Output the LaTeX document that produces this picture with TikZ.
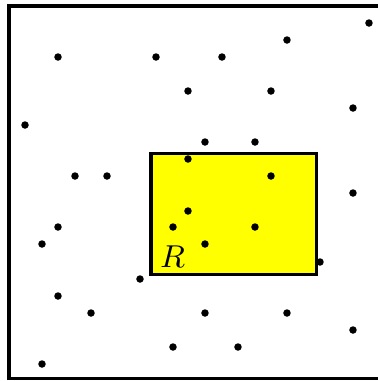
\documentclass[tikz,border=0pt]{standalone}
\usepackage{tikz}
\usetikzlibrary{positioning}
\definecolor{regionfill}{RGB}{255,255,0}
\tikzset{
  pt/.style={
    circle, fill=black, inner sep=0pt, minimum size=0.075cm
  },
  frame/.style={
    draw=black, line width=1.1pt
  },
  region/.style={
    rectangle, draw=black, line width=1.1pt, fill=regionfill,
    inner sep=0pt, minimum width=1.65cm, minimum height=1.21cm
  },
  lbl/.style={
    inner sep=0pt, font=\fontsize{9}{10}\selectfont
  }
}
\begin{document}
\begin{tikzpicture}[x=0.01cm, y=-0.01cm]
  \useasboundingbox (0,0) rectangle (378,381);
  \clip (0,0) rectangle (378,381);
  \draw[frame] (9,6) rectangle (384,378.5) coordinate (corner);

  \node[region, anchor=north west] (R) at (149.5,151.5) {};
  \node[lbl, anchor=south west] (Rlabel) at ([xshift=0.1cm, yshift=0.08cm]R.south west) {$R$};

  % random points
  \foreach \px/\py [count=\n] in {
      58/57, 156/57, 222/57, 287/40, 369/23, 188/91, 271/91, 353/108,
      25/125, 205/142, 255/142, 188/159, 75/176, 107/176, 271/176,
      353/193, 188/211, 58/227, 173/227, 255/227, 42/244, 205/244,
      320/262, 140/279, 58/296, 91/313, 205/313, 287/313, 353/330,
      173/347, 238/347, 42/364}
    \node[pt] (p\n) at (\px,\py) {};
\end{tikzpicture}
\end{document}
